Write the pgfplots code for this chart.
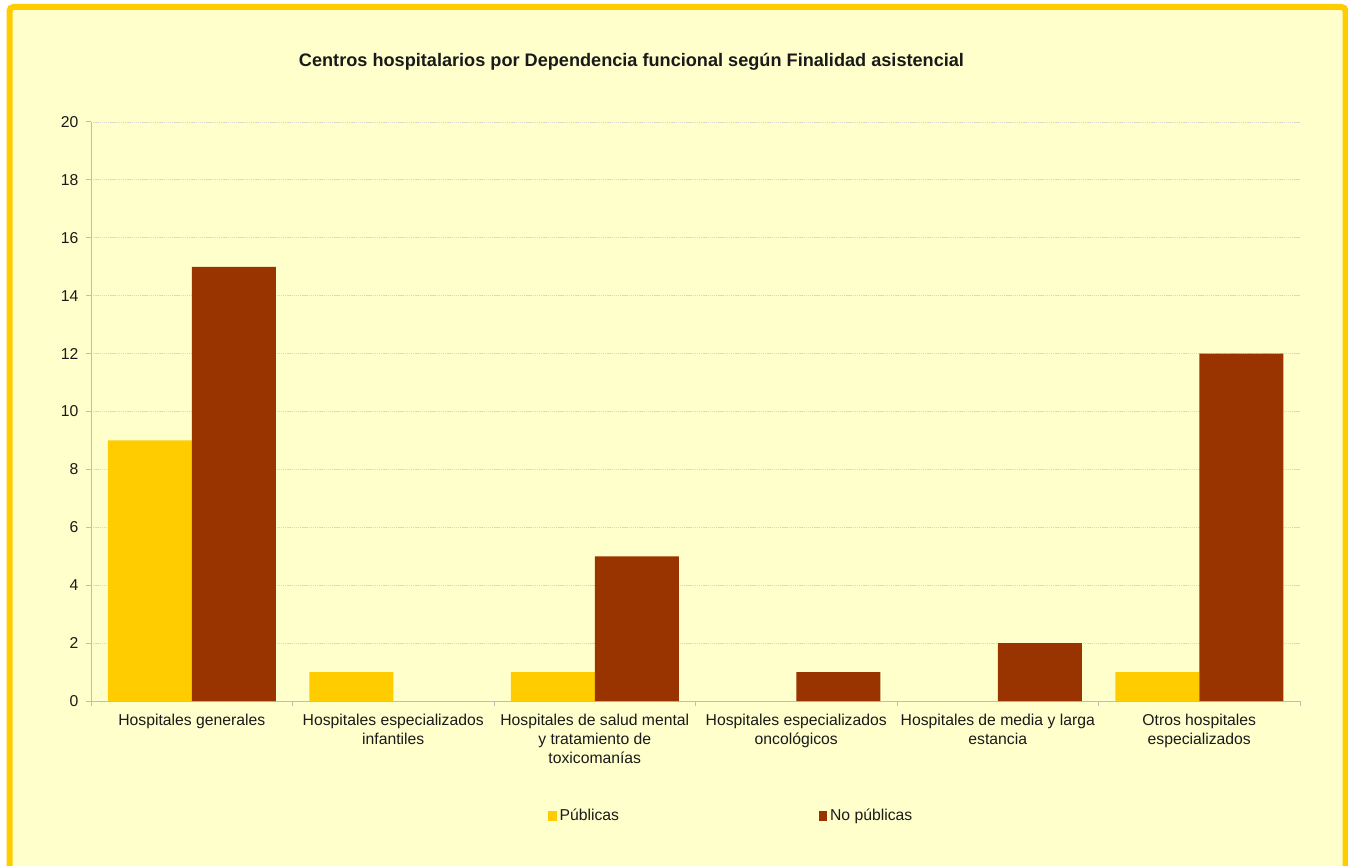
\documentclass[border=0pt]{standalone}
\usepackage{pgfplots}
\pgfplotsset{compat=1.18}
\usepackage{fontspec}
\setmainfont{Liberation Sans}
\definecolor{bg}{HTML}{FFFFCC}
\definecolor{pub}{HTML}{FFCC00}
\definecolor{nopub}{HTML}{993300}
\definecolor{axisgray}{HTML}{BCBCC4}
\definecolor{gridgray}{HTML}{D8D8D0}
\definecolor{txt}{HTML}{1A1A1A}
\begin{document}
\begin{tikzpicture}[x=0.75pt,y=0.75pt]
\useasboundingbox (0,0) rectangle (1348,865);
\fill[white] (0,0) rectangle (1348,865);
\fill[bg, rounded corners=3] (9.5,-20) rectangle (1345.5,858);
\draw[pub, line width=4.5pt, rounded corners=3] (9.5,-20) rectangle (1345.5,858);
\node[font=\bfseries\fontsize{13.6}{16}\selectfont, anchor=base, inner sep=0pt, text=txt]
  at (631.5,798.5) {Centros hospitalarios por Dependencia funcional según Finalidad asistencial};
\begin{axis}[
    at={(68.25pt,123pt)}, anchor=south west,
    width=906.75pt, height=434.25pt, scale only axis,
    ybar=0pt, bar width=63pt,
    xmin=-0.5, xmax=5.5, ymin=0, ymax=20,
    ytick={0,2,...,20},
    xtick={0,...,5},
    minor xtick={-0.5,0.5,...,5.5},
    xticklabels={{Hospitales generales},{Hospitales especializados\\infantiles},{Hospitales de salud mental\\y tratamiento de\\toxicomanías},{Hospitales especializados\\oncológicos},{Hospitales de media y larga\\estancia},{Otros hospitales\\especializados}},
    xticklabel style={align=center, yshift=-2.25pt},
    yticklabel style={xshift=-2.25pt},
    /pgf/number format/assume math mode=true,
    axis lines*=left,
    axis line style={axisgray, line width=0.75pt},
    tick align=outside,
    major tick length=3.75pt, minor tick length=3.75pt,
    tick style={axisgray, line width=0.75pt},
    major x tick style={draw=none},
    ymajorgrids,
    grid style={gridgray, line width=0.6pt, dash pattern=on 1pt off 0.6pt},
    ticklabel style={font=\fontsize{11.8}{14.3}\selectfont, text=txt},
    legend style={at={(0.378,-0.1986)}, anchor=west, draw=none, fill=none,
        font=\fontsize{11.8}{14.3}\selectfont, text=txt, inner sep=0pt,
        /tikz/every even column/.append style={column sep=147.75pt}},
    legend columns=2,
    every axis plot post/.append style={legend image code/.code={\fill[##1] (0pt,-3.4pt) rectangle (6.5pt,3.4pt);}},
]
\addplot[fill=pub, draw=none] coordinates {(0,9) (1,1) (2,1) (5,1)};
\addlegendentry{Públicas}
\addplot[fill=nopub, draw=none] coordinates {(0,15) (2,5) (3,1) (4,2) (5,12)};
\addlegendentry{No públicas}
\end{axis}
\end{tikzpicture}
\end{document}
